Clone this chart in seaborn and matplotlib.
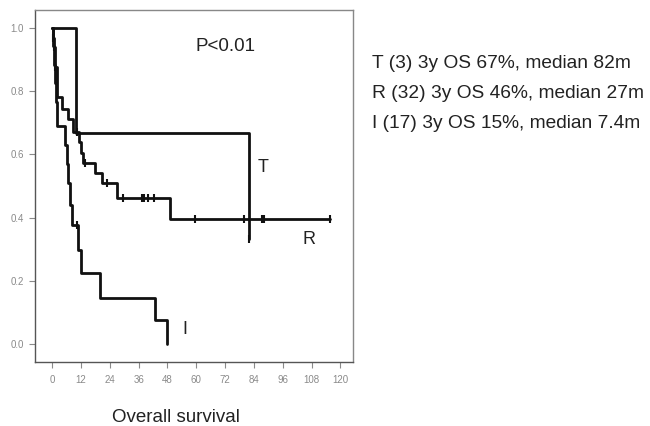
import matplotlib
matplotlib.use("Agg")
import matplotlib.pyplot as plt
import seaborn as sns
import pandas as pd

# Kaplan-Meier step values (months, survival probability)
t_time = [0, 10.0, 82.0]
t_surv = [1.0, 0.667, 0.333]
t_cens_time = [82.0]
t_cens_surv = [0.333]

r_time = [0, 0.3, 0.6, 1.0, 2.0, 4.3, 6.6, 8.7, 11.0, 12.0, 12.8, 17.9, 20.8, 27.0, 49.0, 115.6]
r_surv = [1.0, 0.969, 0.938, 0.875, 0.781, 0.744, 0.712, 0.672, 0.638, 0.605, 0.573, 0.541,
          0.509, 0.462, 0.396, 0.396]
r_cens_time = [0.5, 0.8, 1.3, 10.4, 13.7, 22.9, 29.5, 37.4, 38.2, 40.0, 42.4, 59.5, 80.0,
               87.4, 88.2, 115.6]
r_cens_surv = [0.969, 0.938, 0.875, 0.672, 0.573, 0.509, 0.462, 0.462, 0.462, 0.462, 0.462,
               0.396, 0.396, 0.396, 0.396, 0.396]

i_time = [0, 0.3, 0.7, 1.0, 1.5, 2.0, 5.2, 6.0, 6.8, 7.4, 8.3, 10.9, 12.1, 20.0, 42.8, 47.8]
i_surv = [1.0, 0.941, 0.882, 0.824, 0.765, 0.690, 0.630, 0.570, 0.510, 0.440, 0.377, 0.297,
          0.225, 0.146, 0.076, 0.0]
i_cens_time = [10.5]
i_cens_surv = [0.377]

group_labels = ["T", "R", "I"]
summary_lines = [
    "T (3) 3y OS 67%, median 82m",
    "R (32) 3y OS 46%, median 27m",
    "I (17) 3y OS 15%, median 7.4m",
]
x_ticks = [0, 12, 24, 36, 48, 60, 72, 84, 96, 108, 120]
y_ticks = [0.0, 0.2, 0.4, 0.6, 0.8, 1.0]

sns.set_theme(style="white")
plt.rcParams["font.family"] = ["Liberation Sans", "DejaVu Sans"]

fig = plt.figure(figsize=(6.5, 4.26), dpi=100)
ax = fig.add_axes([0.054, 0.150, 0.489, 0.827])

curves = [(t_time, t_surv, t_cens_time, t_cens_surv),
          (r_time, r_surv, r_cens_time, r_cens_surv),
          (i_time, i_surv, i_cens_time, i_cens_surv)]
for name, (tt, ss, ct, cs) in zip(group_labels, curves):
    df = pd.DataFrame({"month": tt, "survival": ss})
    sns.lineplot(data=df, x="month", y="survival", drawstyle="steps-post",
                 estimator=None, color="#111111", linewidth=2.0, ax=ax)
    cdf = pd.DataFrame({"month": ct, "survival": cs})
    sns.scatterplot(data=cdf, x="month", y="survival", marker="|", s=35,
                    color="#111111", linewidth=1.5, ax=ax, zorder=3)

ax.set_xlim(-7.1, 125.2)
ax.set_ylim(-0.057, 1.057)
ax.set_xticks(x_ticks)
ax.set_xticklabels([str(v) for v in x_ticks])
ax.set_yticks(y_ticks)
ax.set_yticklabels([f"{v:.1f}" for v in y_ticks])
ax.tick_params(axis="both", which="major", labelsize=7, colors="#8a8a8a",
               length=4, width=0.8, direction="out", pad=4,
               bottom=True, left=True)
ax.tick_params(axis="x", pad=5)
ax.set_xlabel("")
ax.set_ylabel("")
for side, sp in ax.spines.items():
    sp.set_visible(True)
    sp.set_color("#888888")
    sp.set_linewidth(1.0)
ax.spines["left"].set_color("#555555")
ax.spines["bottom"].set_color("#555555")

# Curve labels and test result
ax.text(87.7, 0.557, "T", fontsize=13, color="#222222", ha="center", va="center")
ax.text(107.0, 0.33, "R", fontsize=13, color="#222222", ha="center", va="center")
ax.text(55.3, 0.047, "I", fontsize=13, color="#222222", ha="center", va="center")
ax.text(72.0, 0.94, "P<0.01", fontsize=13.5, color="#222222", ha="center", va="center")

for k, line in enumerate(summary_lines):
    fig.text(0.572, 0.852 - k * 0.0705, line, fontsize=13.8, color="#222222",
             ha="left", va="center")

fig.text(0.271, 0.021, "Overall survival", fontsize=13.5, color="#222222",
         ha="center", va="center")

fig.savefig("out.png", dpi=100)
